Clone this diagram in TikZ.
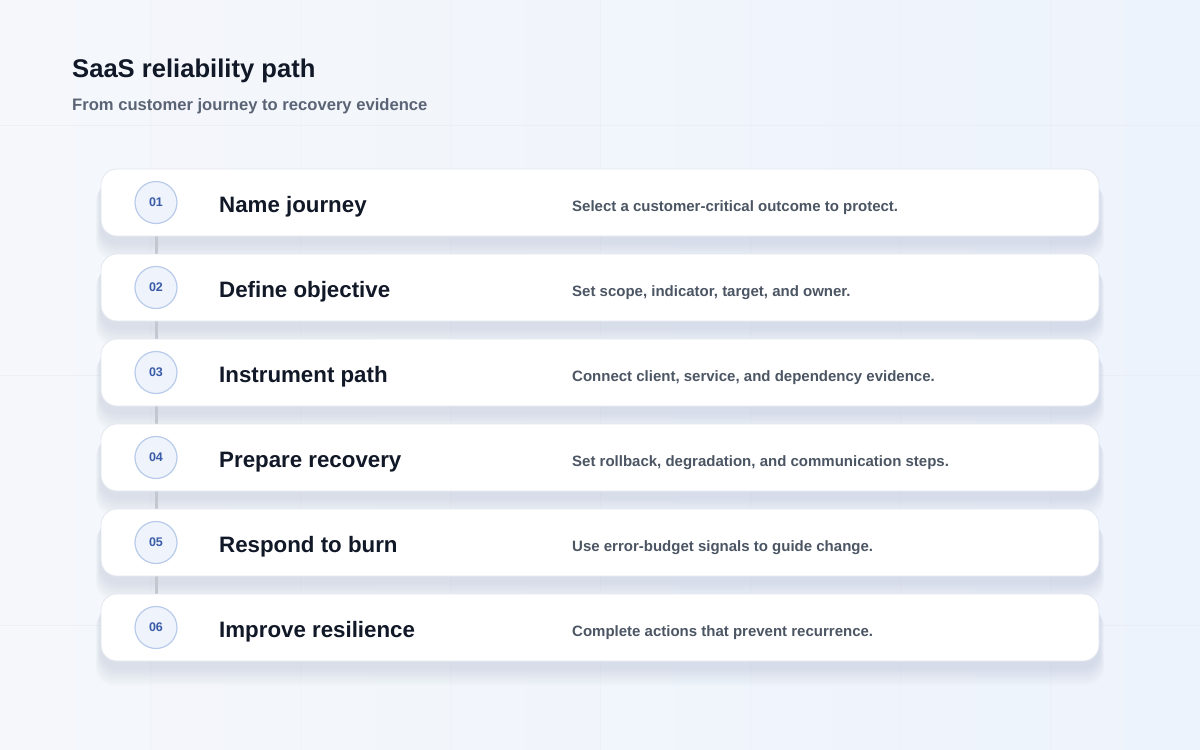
\documentclass[tikz,border=0pt]{standalone}
\usepackage{fontspec}
\setmainfont{Liberation Sans}
\usetikzlibrary{backgrounds}
\pgfdeclarelayer{shadowlayer}
\pgfdeclarelayer{connlayer}
\pgfsetlayers{background,shadowlayer,connlayer,main}
\definecolor{bgA}{HTML}{F5F7FB}
\definecolor{bgB}{HTML}{EDF3FC}
\definecolor{gridc}{HTML}{E6EAF1}
\definecolor{titlec}{HTML}{111827}
\definecolor{subc}{HTML}{5B6475}
\definecolor{descc}{HTML}{4B5563}
\definecolor{numc}{HTML}{3A5BA8}
\definecolor{circfill}{HTML}{EEF3FC}
\definecolor{circline}{HTML}{B9CBEA}
\definecolor{cardline}{HTML}{E3E7EF}
\definecolor{connc}{HTML}{C3C7CF}
\definecolor{shadc}{HTML}{9AA3BE}
\tikzset{
  card/.style={draw=cardline, line width=0.8pt, fill=white, rounded corners=16pt,
    minimum width=998pt, minimum height=67pt, inner sep=0pt},
  numcirc/.style={circle, draw=circline, line width=1.2pt, fill=circfill,
    minimum size=42pt, inner sep=0pt, font=\fontsize{12.5}{14}\selectfont\bfseries, text=numc},
  steptitle/.style={anchor=base west, inner sep=0pt, font=\fontsize{22.3}{26}\selectfont\bfseries, text=titlec},
  stepdesc/.style={anchor=base west, inner sep=0pt, font=\fontsize{15}{17}\selectfont\bfseries, text=descc},
  conn/.style={draw=connc, line width=3pt},
}
\begin{document}
\begin{tikzpicture}[x=1pt,y=-1pt]
\useasboundingbox (0,0) rectangle (1200,750);
\begin{scope}[on background layer]
  \shade[left color=bgA, right color=bgB] (0,0) rectangle (1200,750);
  \foreach \gx in {150,300,...,1050} \draw[gridc, line width=0.6pt, opacity=0.3] (\gx,0) -- (\gx,750);
  \foreach \gy in {125,375,625} \draw[gridc, line width=0.6pt, opacity=0.5] (0,\gy) -- (1200,\gy);
\end{scope}

\node[anchor=base west, inner sep=0pt, font=\fontsize{25.6}{30}\selectfont\bfseries, text=titlec] (title) at (72,77) {SaaS reliability path};
\node[anchor=base west, inner sep=0pt, font=\fontsize{16.6}{19}\selectfont\bfseries, text=subc] (subtitle) at (72,110) {From customer journey to recovery evidence};

\foreach \i/\t/\d in {
  1/Name journey/Select a customer-critical outcome to protect.,
  2/Define objective/{Set scope, indicator, target, and owner.},
  3/Instrument path/{Connect client, service, and dependency evidence.},
  4/Prepare recovery/{Set rollback, degradation, and communication steps.},
  5/Respond to burn/Use error-budget signals to guide change.,
  6/Improve resilience/Complete actions that prevent recurrence.}{
  \pgfmathsetmacro{\cy}{202.5+85*(\i-1)}
  \node[card] (card\i) at (600,\cy) {};
  \node[numcirc] (num\i) at (156,\cy) {\raisebox{-0.5pt}{0\i}};
  \node[steptitle] (t\i) at (219,\cy+9.5) {\t};
  \node[stepdesc] (d\i) at (572,\cy+9) {\d};
  \begin{pgfonlayer}{shadowlayer}
    \foreach \k in {1,...,8}{
      \fill[shadc, opacity=0.035, rounded corners=18pt]
        ([xshift=-\k*0.6pt, yshift=-(6+\k*1.2)*1pt]card\i.north west) rectangle ([xshift=\k*0.6pt, yshift=-(6+\k*2.2)*1pt]card\i.south east);
    }
  \end{pgfonlayer}
}
\begin{pgfonlayer}{connlayer}
  \foreach \i [evaluate=\i as \j using int(\i+1)] in {1,...,5}
    \draw[conn] (num\i.south) -- (num\j.north);
\end{pgfonlayer}
\end{tikzpicture}
\end{document}
